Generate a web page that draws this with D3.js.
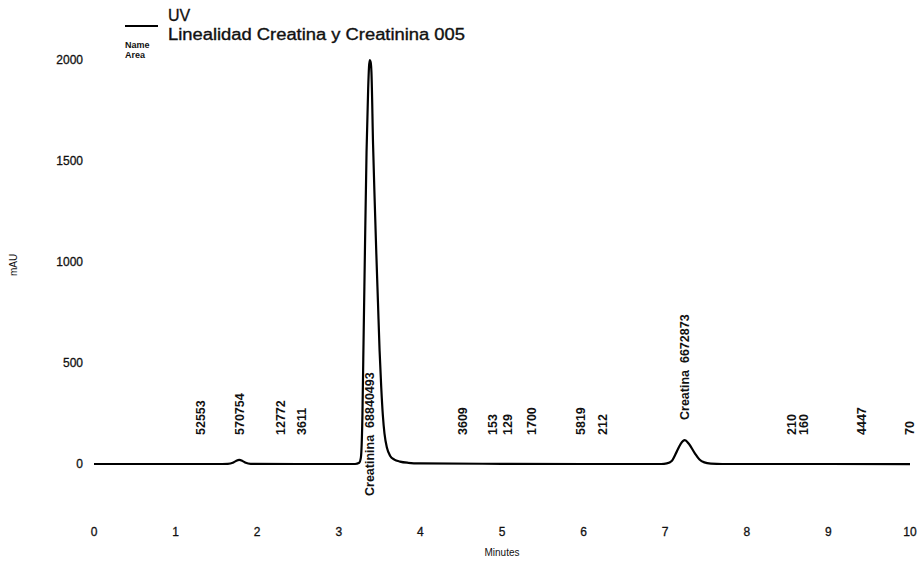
<!DOCTYPE html>
<html><head><meta charset="utf-8">
<script src="https://cdn.jsdelivr.net/npm/d3@7"></script>
<style>
body{margin:0;background:#fff;}
svg{display:block;font-family:"Liberation Sans",Arial,sans-serif;}
</style></head>
<body><svg id="c" width="924" height="563"></svg>
<script>
// ---- data ----
const times = [0,0.5,1.0,1.5,1.64,1.70,1.74,1.78,1.82,1.86,1.92,2.5,3.0,3.20,3.25,3.27,3.29,3.30,3.32,3.34,3.36,3.37,3.38,3.39,3.40,3.42,3.44,3.46,3.48,3.50,3.52,3.54,3.56,3.59,3.63,3.68,3.75,3.85,4.0,5.0,6.0,6.95,7.02,7.08,7.14,7.19,7.24,7.29,7.36,7.42,7.48,7.56,7.7,8.0,9.0,10.0];
const mAU   = [0,0,0,0,1,6,15,20,15,6,1,0,0,0,6,30,250,520,1050,1545,1860,1965,2000,1990,1940,1580,1300,1040,800,560,380,240,150,80,40,22,12,6,3,1,0,0,3,15,60,100,118,100,55,22,8,2,0,0,0,-1];
const xTicks = [0,1,2,3,4,5,6,7,8,9,10];
const yTicks = [0,500,1000,1500,2000];
const peakTimes  = [1.31,1.79,2.29,2.54,3.38,4.52,4.88,5.07,5.36,5.96,6.23,7.24,8.55,8.70,9.41,10.0];
const peakLabels = ["52553","570754","12772","3611","Creatinina  68840493","3609","153","129","1700","5819","212","Creatina  6672873","210","160","4447","70"];
const legendSeries = "UV";
const legendTitle = "Linealidad Creatina y Creatinina 005";

// ---- drawing ----
const svg = d3.select("#c");
const x = d3.scaleLinear().domain([0,10]).range([94,910]);
const y = d3.scaleLinear().domain([0,2000]).range([464,60]);

// y tick labels
svg.append("g").selectAll("text").data(yTicks).join("text")
  .attr("x",83).attr("y",d=>y(d)).attr("dy","0.35em")
  .attr("text-anchor","end").attr("font-size",12).attr("fill","#111")
  .attr("stroke","#111").attr("stroke-width",0.3)
  .text(d=>d);
// x tick labels
svg.append("g").selectAll("text").data(xTicks).join("text")
  .attr("x",d=>x(d)).attr("y",532).attr("dy","0.35em")
  .attr("text-anchor","middle").attr("font-size",12).attr("fill","#111")
  .attr("stroke","#111").attr("stroke-width",0.3)
  .text(d=>d);
// axis titles
svg.append("text").attr("x",x(5)).attr("y",556).attr("text-anchor","middle")
  .attr("font-size",10).attr("fill","#111").text("Minutes");
svg.append("text").attr("transform","translate(17,265) rotate(-90)")
  .attr("text-anchor","middle").attr("font-size",10).attr("fill","#111").text("mAU");

// trace
const pts = times.map((t,i)=>[t,mAU[i]]);
svg.append("path").datum(pts)
  .attr("fill","none").attr("stroke","#000").attr("stroke-width",2.2)
  .attr("stroke-linejoin","round")
  .attr("d",d3.line().x(d=>x(d[0])).y(d=>y(d[1])).curve(d3.curveMonotoneX));

// peak labels
const bottomFor = l => l.startsWith("Creatinina") ? 496 : (l.startsWith("Creatina") ? 420 : 435);
svg.append("g").selectAll("text").data(peakTimes).join("text")
  .attr("transform",(d,i)=>`translate(${x(d)},${bottomFor(peakLabels[i])}) rotate(-90)`)
  .attr("dy","0.35em").attr("font-size",12.5).attr("font-weight","bold").attr("fill","#111")
  .attr("xml:space","preserve")
  .text((d,i)=>peakLabels[i]);

// legend
svg.append("line").attr("x1",125).attr("x2",158).attr("y1",26).attr("y2",26)
  .attr("stroke","#000").attr("stroke-width",2);
svg.append("text").attr("x",168).attr("y",21).attr("font-size",16).attr("fill","#111")
  .attr("stroke","#111").attr("stroke-width",0.3).text(legendSeries);
svg.append("text").attr("x",168).attr("y",40).attr("font-size",16).attr("fill","#111")
  .attr("stroke","#111").attr("stroke-width",0.35)
  .attr("textLength",297).attr("lengthAdjust","spacingAndGlyphs").text(legendTitle);
svg.append("text").attr("x",125).attr("y",48).attr("font-size",9).attr("font-weight","bold").attr("fill","#111").text("Name");
svg.append("text").attr("x",125).attr("y",58).attr("font-size",9).attr("font-weight","bold").attr("fill","#111").text("Area");
</script></body></html>
